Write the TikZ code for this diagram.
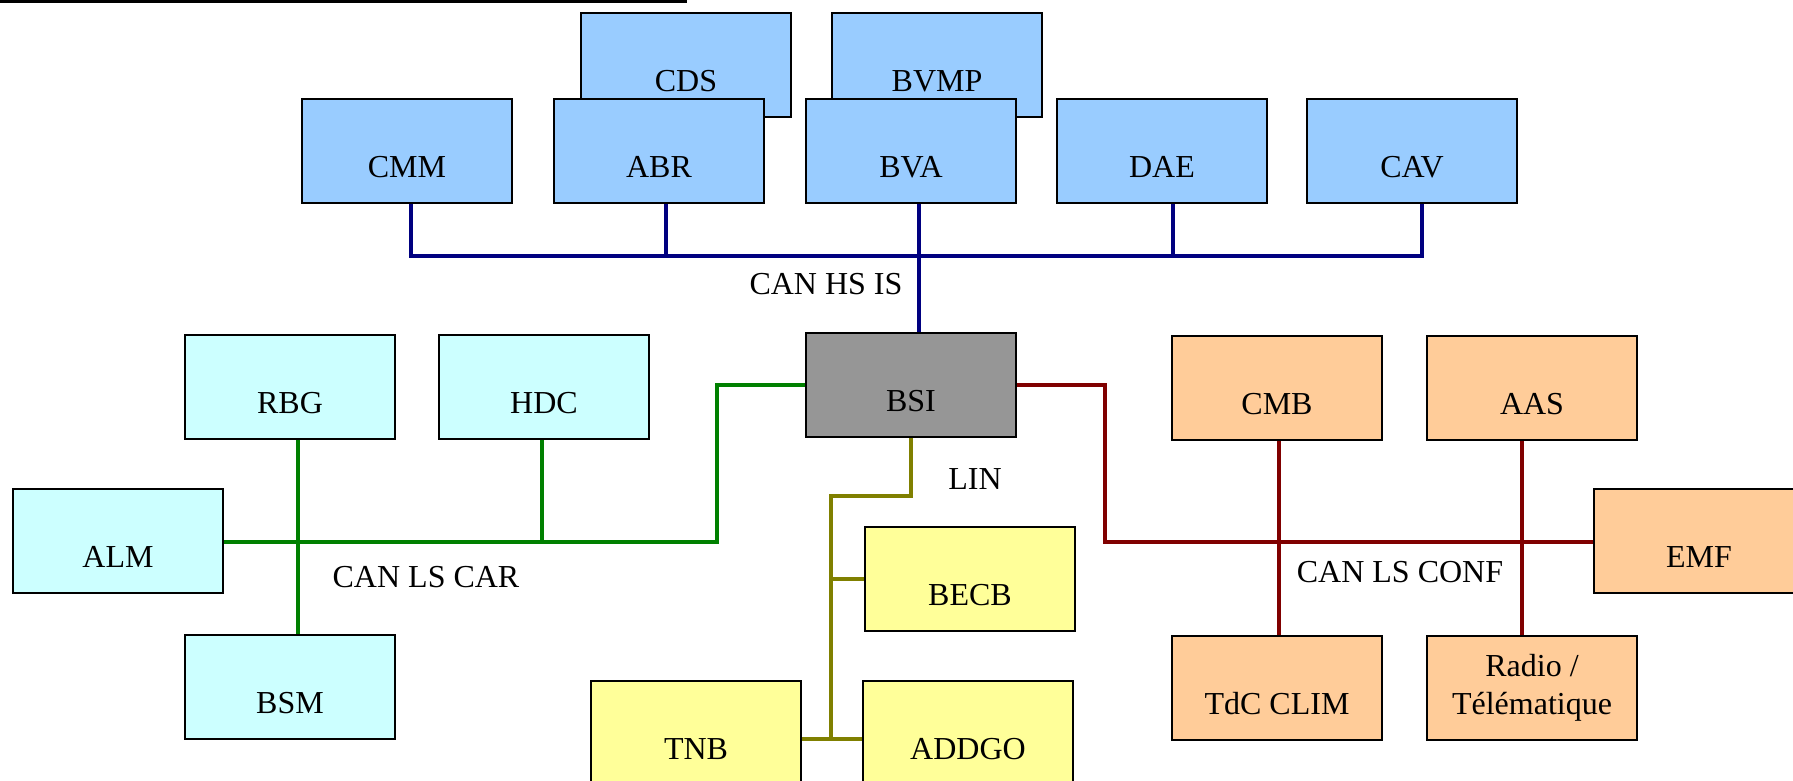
\documentclass[tikz,border=0pt]{standalone}
\usepackage{fontspec}
\setmainfont{Liberation Serif}
\usetikzlibrary{calc,positioning}
\definecolor{hsblue}{HTML}{000080}
\definecolor{cargreen}{HTML}{008000}
\definecolor{linolive}{HTML}{808000}
\definecolor{confred}{HTML}{800000}
\definecolor{isfill}{HTML}{99CCFF}
\definecolor{carfill}{HTML}{CCFFFF}
\definecolor{linfill}{HTML}{FFFF99}
\definecolor{conffill}{HTML}{FFCC99}
\definecolor{bsifill}{HTML}{969696}

\begin{document}
\begin{tikzpicture}[x=0.5pt,y=-0.5pt,font=\fontsize{16}{19}\selectfont,
    box/.style={draw=black, line width=1pt, minimum width=105pt, minimum height=52pt, inner sep=0pt},
    ecu/.style={box, text height=26pt, text depth=0pt},
    hs/.style={draw=hsblue, line width=2pt},
    car/.style={draw=cargreen, line width=2pt},
    lin/.style={draw=linolive, line width=2pt},
    conf/.style={draw=confred, line width=2pt}]
    \useasboundingbox (0,0) rectangle (1793,781);
    \clip (0,0) rectangle (1793,781);
    \fill (0,0) rectangle (687,3);

    % CAN HS IS
    \node[ecu, fill=isfill] (cds) at (686,65) {CDS};
    \node[ecu, fill=isfill] (bvmp) at (937,65) {BVMP};
    \node[ecu, fill=isfill] (cmm) at (407,151) {CMM};
    \node[ecu, fill=isfill] (abr) at (659,151) {ABR};
    \node[ecu, fill=isfill] (bva) at (911,151) {BVA};
    \node[ecu, fill=isfill] (dae) at (1162,151) {DAE};
    \node[ecu, fill=isfill] (cav) at (1412,151) {CAV};
    \node[ecu, fill=bsifill] (bsi) at (911,385) {BSI};

    % CAN LS CAR
    \node[ecu, fill=carfill] (rbg) at (290,387) {RBG};
    \node[ecu, fill=carfill] (hdc) at (544,387) {HDC};
    \node[ecu, fill=carfill] (alm) at (118,541) {ALM};
    \node[ecu, fill=carfill] (bsm) at (290,687) {BSM};

    % LIN
    \node[ecu, fill=linfill] (becb) at (970,579) {BECB};
    \node[ecu, fill=linfill] (tnb) at (696,733) {TNB};
    \node[ecu, fill=linfill] (addgo) at (968,733) {ADDGO};

    % CAN LS CONF
    \node[ecu, fill=conffill] (cmb) at (1277,388) {CMB};
    \node[ecu, fill=conffill] (aas) at (1532,388) {AAS};
    \node[ecu, fill=conffill] (emf) at (1699,541) {EMF};
    \node[ecu, fill=conffill] (tdc) at (1277,688) {TdC CLIM};
    \node[box, fill=conffill, align=center] (radio) at (1532,688) {Radio /\\Télématique};

    % bus labels
    \node (lhs) at (826,284) {CAN HS IS};
    \node (lcar) at (426,577) {CAN LS CAR};
    \node (llin) at (975,479) {LIN};
    \node (lconf) at (1400,572) {CAN LS CONF};

    % taps
    \coordinate (tcmm) at (411,256);
    \coordinate (tabr) at (666,256);
    \coordinate (tbva) at (919,256);
    \coordinate (tdae) at (1173,256);
    \coordinate (tcav) at (1422,256);
    \coordinate (trbg) at (298,542);
    \coordinate (thdc) at (542,542);
    \coordinate (tcar) at (717,542);
    \coordinate (tconf) at (1105,542);
    \coordinate (tcmb) at (1279,542);
    \coordinate (taas) at (1522,542);
    \coordinate (lk) at (831,496);
    \coordinate (lb) at (831,739);

    \draw[hs] (tcmm |- cmm.south) -- (tcmm) -- (tcav) -- (tcav |- cav.south);
    \draw[hs] (tabr) -- (tabr |- abr.south);
    \draw[hs] (tdae) -- (tdae |- dae.south);
    \draw[hs] (tbva |- bva.south) -- (tbva |- bsi.north);

    \draw[car] (alm.east |- trbg) -- (tcar) |- (bsi.west);
    \draw[car] (trbg |- rbg.south) -- (trbg |- bsm.north);
    \draw[car] (thdc |- hdc.south) -- (thdc);

    \draw[conf] (bsi.east) -| (tconf) -- (emf.west |- tconf);
    \draw[conf] (tcmb |- cmb.south) -- (tcmb |- tdc.north);
    \draw[conf] (taas |- aas.south) -- (taas |- radio.north);

    \draw[lin] (bsi.south) |- (lk) -- (lb);
    \draw[lin] (lk |- becb.west) -- (becb.west);
    \draw[lin] (tnb.east |- lb) -- (addgo.west |- lb);
\end{tikzpicture}
\end{document}
